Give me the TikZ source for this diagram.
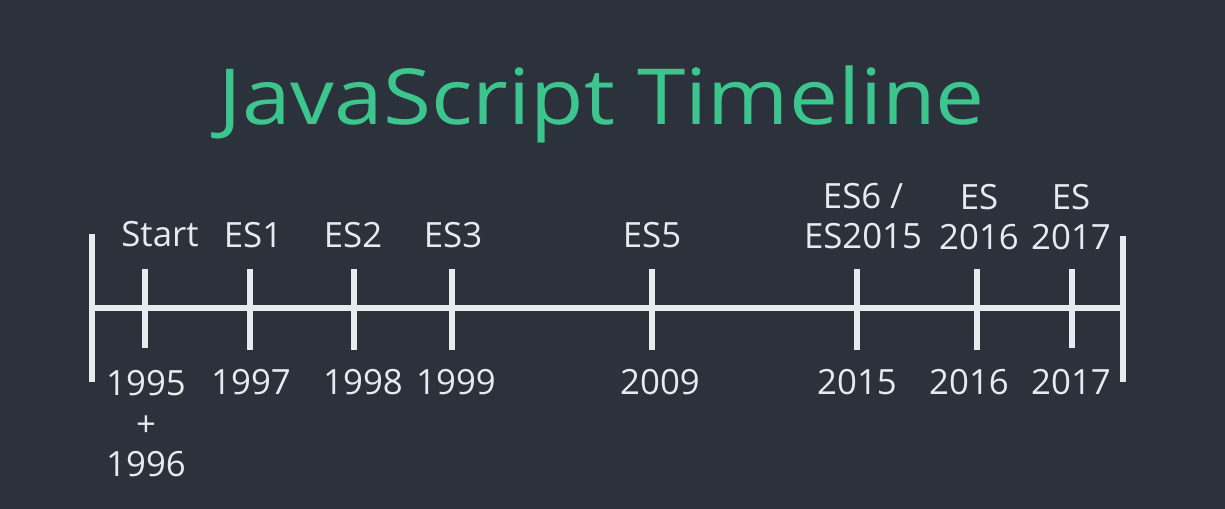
\documentclass[tikz,border=0pt]{standalone}
\usepackage{fontspec}
\setmainfont{Open Sans}
\newfontfamily\titlefont[FakeStretch=1.13]{Open Sans}
\definecolor{bgdark}{HTML}{2B323C}
\definecolor{titlegreen}{HTML}{3CC68E}
\definecolor{linegray}{HTML}{E8EBEE}
\begin{document}
\begin{tikzpicture}[x=0.02cm, y=-0.02cm,
    label/.style={text=linegray, font=\fontsize{19.8}{23.2}\selectfont, align=center, anchor=base, inner sep=0pt},
    axis/.style={draw=linegray, line width=3pt},
    bar/.style={draw=linegray, line width=3.4pt}]
            \fill[bgdark] (0,0) rectangle (1225,509);
            \useasboundingbox (0,0) rectangle (1225,509);

            \node[text=titlegreen, font=\titlefont\fontsize{44}{52}\selectfont, anchor=base, inner sep=0pt] (title) at (602,125) {JavaScript Timeline};

            % axis and end bars
            \coordinate (L) at (92,308);
            \coordinate (R) at (1123,308);
            \coordinate (Ltop) at (92,234);
            \coordinate (Lbot) at (92,382);
            \coordinate (Rtop) at (1123,236);
            \coordinate (Rbot) at (1123,382);
            \draw[axis] (L) -- (R);
            \draw[bar] (Ltop) -- (Lbot);
            \draw[bar] (Rtop) -- (Rbot);

            % ticks
            \coordinate (t95a) at (145,269);  \coordinate (t95b) at (145,348);
            \coordinate (t97a) at (250,269);  \coordinate (t97b) at (250,350);
            \coordinate (t98a) at (354,269);  \coordinate (t98b) at (354,350);
            \coordinate (t99a) at (452,269);  \coordinate (t99b) at (452,350);
            \coordinate (t09a) at (652,269);  \coordinate (t09b) at (652,350);
            \coordinate (t15a) at (857,269);  \coordinate (t15b) at (857,350);
            \coordinate (t16a) at (977,269);  \coordinate (t16b) at (977,350);
            \coordinate (t17a) at (1072,269); \coordinate (t17b) at (1072,348);
            \draw[bar] (t95a) -- (t95b);
            \draw[bar] (t97a) -- (t97b);
            \draw[bar] (t98a) -- (t98b);
            \draw[bar] (t99a) -- (t99b);
            \draw[bar] (t09a) -- (t09b);
            \draw[bar] (t15a) -- (t15b);
            \draw[bar] (t16a) -- (t16b);
            \draw[bar] (t17a) -- (t17b);

            % versions (base = last line)
            \node[label] (start) at (160,247) {Start};
            \node[label] (es1) at (253,248) {ES1};
            \node[label] (es2) at (353,248) {ES2};
            \node[label] (es3) at (453,248) {ES3};
            \node[label] (es5) at (652,248) {ES5};
            \node[label] (es6) at (863,249) {ES6 /\\ES2015};
            \node[label] (es16) at (979,250) {ES\\2016};
            \node[label] (es17) at (1071,250) {ES\\2017};

            % years
            \node[label] (y95) at (146,477) {1995\\+\\1996};
            \node[label] (y97) at (251,395) {1997};
            \node[label] (y98) at (363,395) {1998};
            \node[label] (y99) at (456,395) {1999};
            \node[label] (y09) at (660,395) {2009};
            \node[label] (y15) at (857,395) {2015};
            \node[label] (y16) at (969,395) {2016};
            \node[label] (y17) at (1071,395) {2017};
        \end{tikzpicture}
\end{document}
